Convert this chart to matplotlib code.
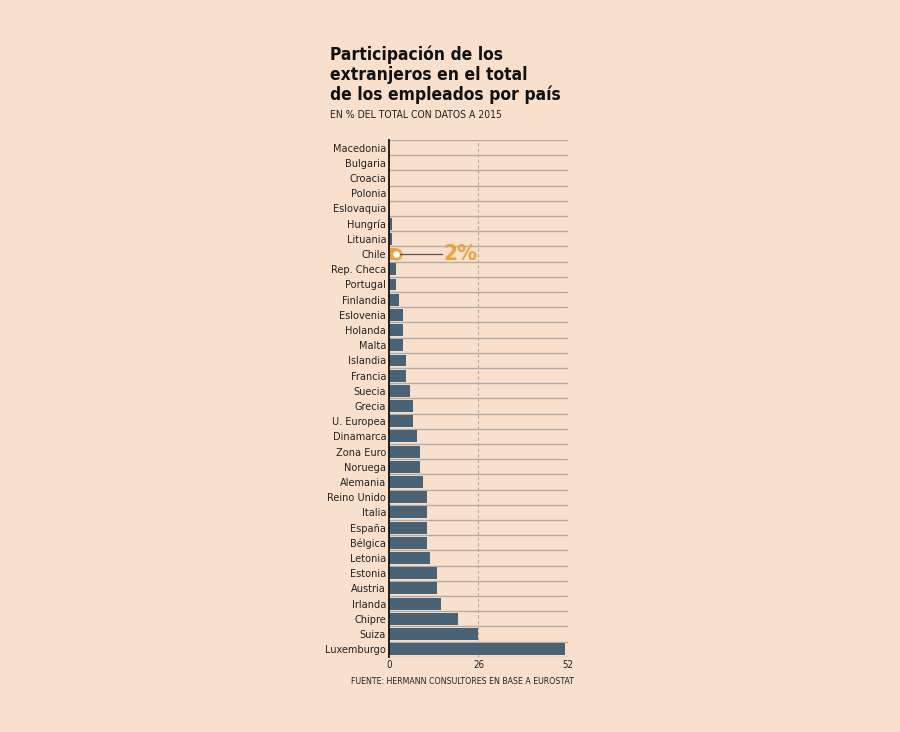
import numpy as np
import matplotlib.pyplot as plt

# datos: % de extranjeros en el total de empleados (2015)
paises = ['Macedonia', 'Bulgaria', 'Croacia', 'Polonia', 'Eslovaquia', 'Hungría',
          'Lituania', 'Chile', 'Rep. Checa', 'Portugal', 'Finlandia', 'Eslovenia',
          'Holanda', 'Malta', 'Islandia', 'Francia', 'Suecia', 'Grecia', 'U. Europea',
          'Dinamarca', 'Zona Euro', 'Noruega', 'Alemania', 'Reino Unido', 'Italia',
          'España', 'Bélgica', 'Letonia', 'Estonia', 'Austria', 'Irlanda', 'Chipre',
          'Suiza', 'Luxemburgo']
valores = [0, 0, 0, 0, 0, 1, 1, 2, 2, 2, 3, 4, 4, 4, 5, 5, 6, 7, 7, 8, 9, 9,
           10, 11, 11, 11, 11, 12, 14, 14, 15, 20, 26, 51]
ticks = [0, 26, 52]
destacado = 'Chile'

fondo = '#F9E0CD'
azul = '#4A6275'
naranja = '#E9A141'
gris = '#B3ABA4'

plt.rcParams['font.family'] = ['DejaVu Sans']
plt.rcParams['font.stretch'] = 'condensed'

fig = plt.figure(figsize=(9, 7.32), dpi=100, facecolor=fondo)
ax = fig.add_axes([0.4322, 0.1027, 0.1989, 0.7060])
ax.set_facecolor(fondo)

y = np.arange(len(paises))
colores = [naranja if p == destacado else azul for p in paises]
ax.barh(y, valores, height=0.78, color=colores, zorder=3)

# separadores entre filas
for b in np.arange(-0.5, len(paises), 1.0):
    ax.axhline(b, color=gris, lw=1.0, zorder=1)
for t in ticks[1:]:
    ax.axvline(t, color=gris, lw=0.8, ls=(0, (3, 2)), zorder=2)

# Chile destacado
i = paises.index(destacado)
v = valores[i]
ax.scatter([v], [i], s=60, color=naranja, zorder=4)
ax.scatter([v], [i], s=14, color='white', zorder=5)
ax.plot([v + 0.6, 15.5], [i, i], color='#5A5550', lw=0.9, zorder=4)
ax.text(15.8, i, f'{v}%', color=naranja, fontsize=16, fontweight='bold',
        va='center', ha='left', zorder=6)

ax.set_xlim(0, 52)
ax.set_ylim(len(paises) - 0.5, -0.5)
ax.set_yticks(y)
ax.set_yticklabels(paises, fontsize=7.8, color='#222222')
ax.set_xticks(ticks)
ax.set_xticklabels([str(t) for t in ticks], fontsize=7, color='#222222')
ax.tick_params(axis='both', length=0, pad=2)
for s in ['top', 'right', 'bottom']:
    ax.spines[s].set_visible(False)
ax.spines['left'].set_color('#111111')
ax.spines['left'].set_linewidth(1.3)
ax.spines['left'].set_zorder(6)

# título
fig.text(330 / 900, 1 - 45 / 732,
         'Participación de los\nextranjeros en el total\nde los empleados por país',
         fontsize=12.5, fontweight='bold', color='#111111', va='top', ha='left',
         linespacing=1.15)
fig.text(330 / 900, 1 - 115 / 732, 'EN % DEL TOTAL CON DATOS A 2015',
         fontsize=7.5, color='#222222', va='center', ha='left')
fig.text(351 / 900, 1 - 682 / 732, 'FUENTE: HERMANN CONSULTORES EN BASE A EUROSTAT',
         fontsize=6.3, color='#222222', va='center', ha='left')

fig.savefig('out.png', dpi=100, facecolor=fondo)
